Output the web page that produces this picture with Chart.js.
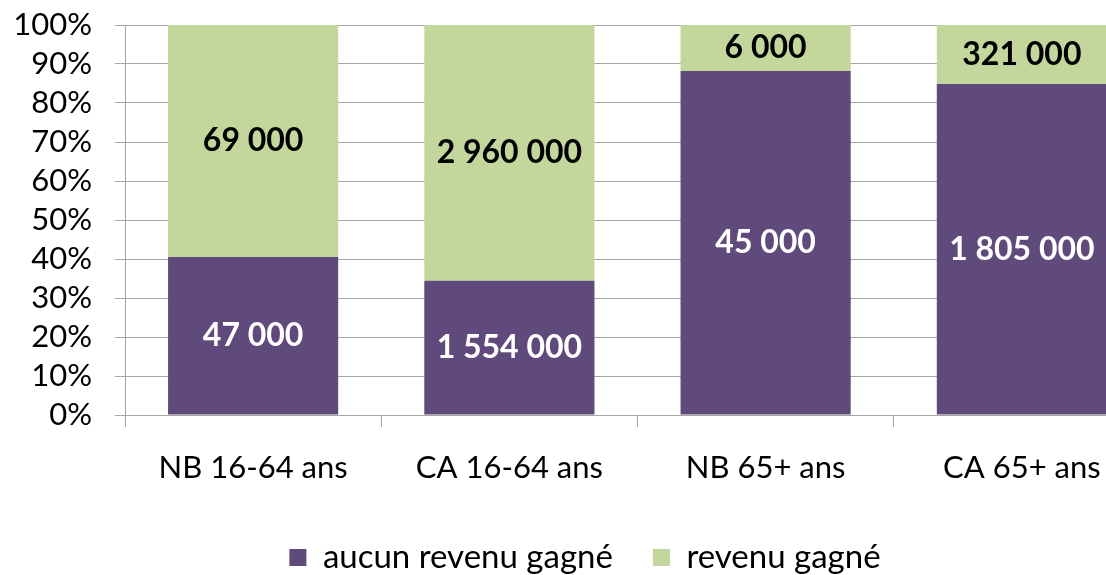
<!DOCTYPE html>
<html><head><meta charset="utf-8">
<script src="https://cdn.jsdelivr.net/npm/chart.js@4.4.0/dist/chart.umd.min.js"></script>
<style>
html,body{margin:0;padding:0;background:#fff;overflow:hidden;width:1106px;height:575px}
#wrap{width:1160px;height:575px;position:relative}
</style></head>
<body><div id="wrap"><canvas id="c" width="1160" height="575"></canvas></div>
<script>
const categories = ['NB 16-64 ans', 'CA 16-64 ans', 'NB 65+ ans', 'CA 65+ ans'];
const seriesNames = ['aucun revenu gagné', 'revenu gagné'];
const aucunRevenu = [47000, 1554000, 45000, 1805000];
const revenuGagne = [69000, 2960000, 6000, 321000];
const yTickValues = [0, 10, 20, 30, 40, 50, 60, 70, 80, 90, 100];

const PURPLE = '#604a7b', GREEN = '#c3d69b', GRID = '#a6a6a6';
const FONT = 'Lato, "DejaVu Sans", sans-serif';

const totals = aucunRevenu.map((v, i) => v + revenuGagne[i]);
const pct = arr => arr.map((v, i) => v / totals[i] * 100);
const counts = [aucunRevenu, revenuGagne];
const labelColors = ['#ffffff', '#000000'];
const fmt = n => String(n).replace(/\B(?=(\d{3})+(?!\d))/g, ' ');

const valueLabels = {
  id: 'valueLabels',
  afterDatasetsDraw(chart) {
    const ctx = chart.ctx;
    ctx.save();
    ctx.font = 'bold 32px ' + FONT;
    ctx.textAlign = 'center';
    ctx.textBaseline = 'middle';
    chart.data.datasets.forEach((ds, i) => {
      const meta = chart.getDatasetMeta(i);
      meta.data.forEach((bar, j) => {
        const p = bar.getProps(['x', 'y', 'base'], true);
        ctx.fillStyle = labelColors[i];
        ctx.fillText(fmt(counts[i][j]), p.x, (p.y + p.base) / 2);
      });
    });
    ctx.restore();
  }
};

const legendShift = {
  id: 'legendShift',
  afterLayout(chart) {
    if (chart.legend) { chart.legend.left += 12; }
  }
};

new Chart(document.getElementById('c'), {
  type: 'bar',
  data: {
    labels: categories,
    datasets: [
      { label: seriesNames[0], data: pct(aucunRevenu), backgroundColor: PURPLE },
      { label: seriesNames[1], data: pct(revenuGagne), backgroundColor: GREEN }
    ]
  },
  options: {
    responsive: false,
    animation: false,
    devicePixelRatio: 1,
    layout: { padding: { left: 8, right: 10, top: 25, bottom: 0 } },
    datasets: { bar: { categoryPercentage: 1, barPercentage: 0.664 } },
    scales: {
      x: {
        stacked: true,
        grid: { display: true, drawOnChartArea: false, drawTicks: true, tickLength: 12, color: GRID, offset: true },
        border: { display: true, color: GRID },
        ticks: { color: '#000', font: { family: FONT, size: 31 }, padding: 22, maxRotation: 0, autoSkip: false },
        afterFit(s) { s.height = 86; }
      },
      y: {
        stacked: true,
        min: 0, max: 100,
        afterBuildTicks(s) { s.ticks = yTickValues.map(v => ({ value: v })); },
        grid: { color: GRID, tickLength: 10 },
        border: { display: true, color: GRID },
        ticks: { color: '#000', font: { family: FONT, size: 31 }, padding: 23, autoSkip: false, callback: v => v + '%' },
        afterFit(s) { s.width = 117; s.paddingTop = 0; s.paddingBottom = 0; }
      }
    },
    plugins: {
      tooltip: { enabled: false },
      legend: {
        position: 'bottom',
        maxHeight: 74,
        labels: { boxWidth: 17, boxHeight: 17, padding: 40, color: '#000', font: { family: FONT, size: 33 } }
      }
    }
  },
  plugins: [valueLabels, legendShift]
});
</script>
</body></html>
